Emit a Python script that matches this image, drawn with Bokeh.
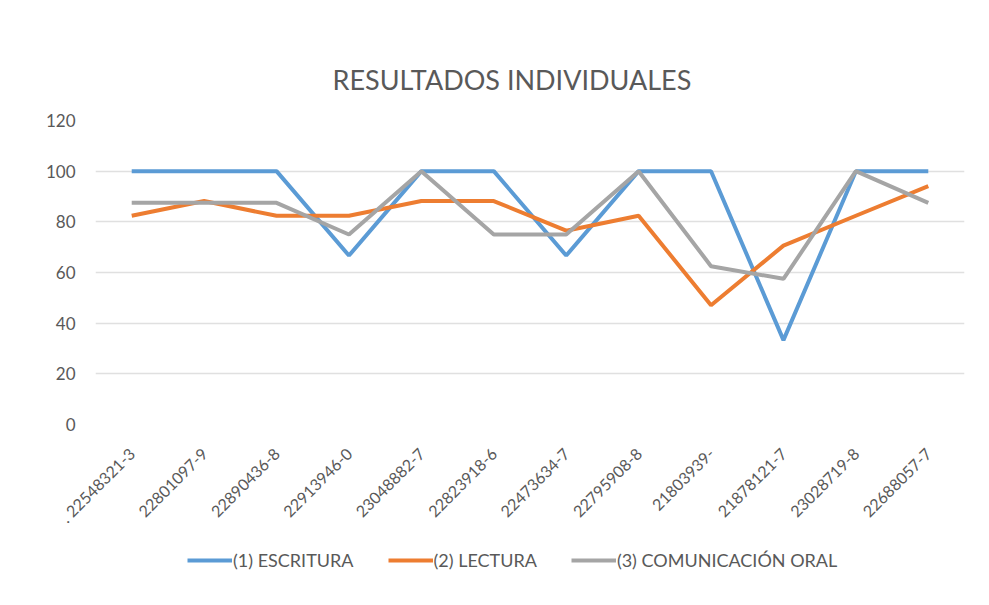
from bokeh.plotting import figure
from bokeh.models import FactorRange, Range1d, FixedTicker, Legend, LegendItem, ColumnDataSource
from bokeh.layouts import column
from bokeh.embed import file_html
from bokeh.resources import INLINE
from math import pi

categories = [". 22548321-3", "22801097-9", "22890436-8", "22913946-0", "23048882-7",
              "22823918-6", "22473634-7", "22795908-8", "21803939-", "21878121-7",
              "23028719-8", "22688057-7"]
escritura = [100, 100, 100, 66.7, 100, 100, 66.7, 100, 100, 33.3, 100, 100]
lectura = [82.4, 88.2, 82.4, 82.4, 88.2, 88.2, 76.5, 82.4, 47.1, 70.6, 82.4, 94.1]
oral = [87.5, 87.5, 87.5, 75, 100, 75, 75, 100, 62.5, 57.5, 100, 87.5]
series_names = ["(1) ESCRITURA", "(2) LECTURA", "(3) COMUNICACIÓN ORAL"]
y_ticks = [0, 20, 40, 60, 80, 100, 120]

FONT = "Lato"
TXT = "#595959"
colors = ["#5B9BD5", "#ED7D31", "#A5A5A5"]
series = [escritura, lectura, oral]

p = figure(width=973, height=535, x_range=FactorRange(*categories, range_padding=0),
           y_range=Range1d(0, 120), output_backend="svg", toolbar_location=None,
           min_border_left=95, min_border_right=9, min_border_top=120, min_border_bottom=108,
           title="RESULTADOS INDIVIDUALES")

p.title.align = "left"
p.title.offset = 237
p.title.text_font = FONT
p.title.text_font_size = "27px"
p.title.text_font_style = "normal"
p.title.text_color = TXT
p.title.standoff = 50

p.outline_line_color = None
p.xgrid.grid_line_color = None
p.ygrid.grid_line_color = "#E0E0E0"
p.ygrid.grid_line_width = 1.5
p.yaxis.ticker = FixedTicker(ticks=y_ticks)

for ax in (p.xaxis, p.yaxis):
    ax.axis_line_color = None
    ax.major_tick_line_color = None
    ax.minor_tick_line_color = None
    ax.major_tick_out = 0
    ax.major_tick_in = 0
    ax.major_label_text_font = FONT
    ax.major_label_text_color = TXT
p.yaxis.major_label_text_font_size = "17px"
p.yaxis.major_label_standoff = 20
p.xaxis.major_label_text_font_size = "16px"
p.xaxis.major_label_orientation = pi / 4
p.xaxis.major_label_standoff = 26

src = ColumnDataSource(dict(x=categories, e=escritura, l=lectura, o=oral))
for col, c in zip(["e", "l", "o"], colors):
    p.line("x", col, source=src, line_color=c, line_width=4)

# legend strip: same series drawn outside its visible range, only the legend shows
leg = figure(width=973, height=50, x_range=Range1d(0, 1), y_range=Range1d(0, 1),
             output_backend="svg", toolbar_location=None, min_border=0,
             x_axis_location=None, y_axis_location=None)
leg.outline_line_color = None
leg.xgrid.grid_line_color = None
leg.ygrid.grid_line_color = None
items = []
for name, vals, c in zip(series_names, series, colors):
    r = leg.line(list(range(len(vals))), vals, line_color=c, line_width=4)
    items.append(LegendItem(label=name, renderers=[r]))
legend = Legend(items=items, orientation="horizontal", location=(92, 14),
                border_line_color=None, background_fill_alpha=0, padding=3, margin=0,
                label_text_font=FONT, label_text_font_size="18px", label_text_color=TXT,
                glyph_width=45, spacing=34, label_standoff=1)
leg.add_layout(legend)

layout = column(p, leg, spacing=0)
open("out.html", "w").write(file_html(layout, INLINE))
